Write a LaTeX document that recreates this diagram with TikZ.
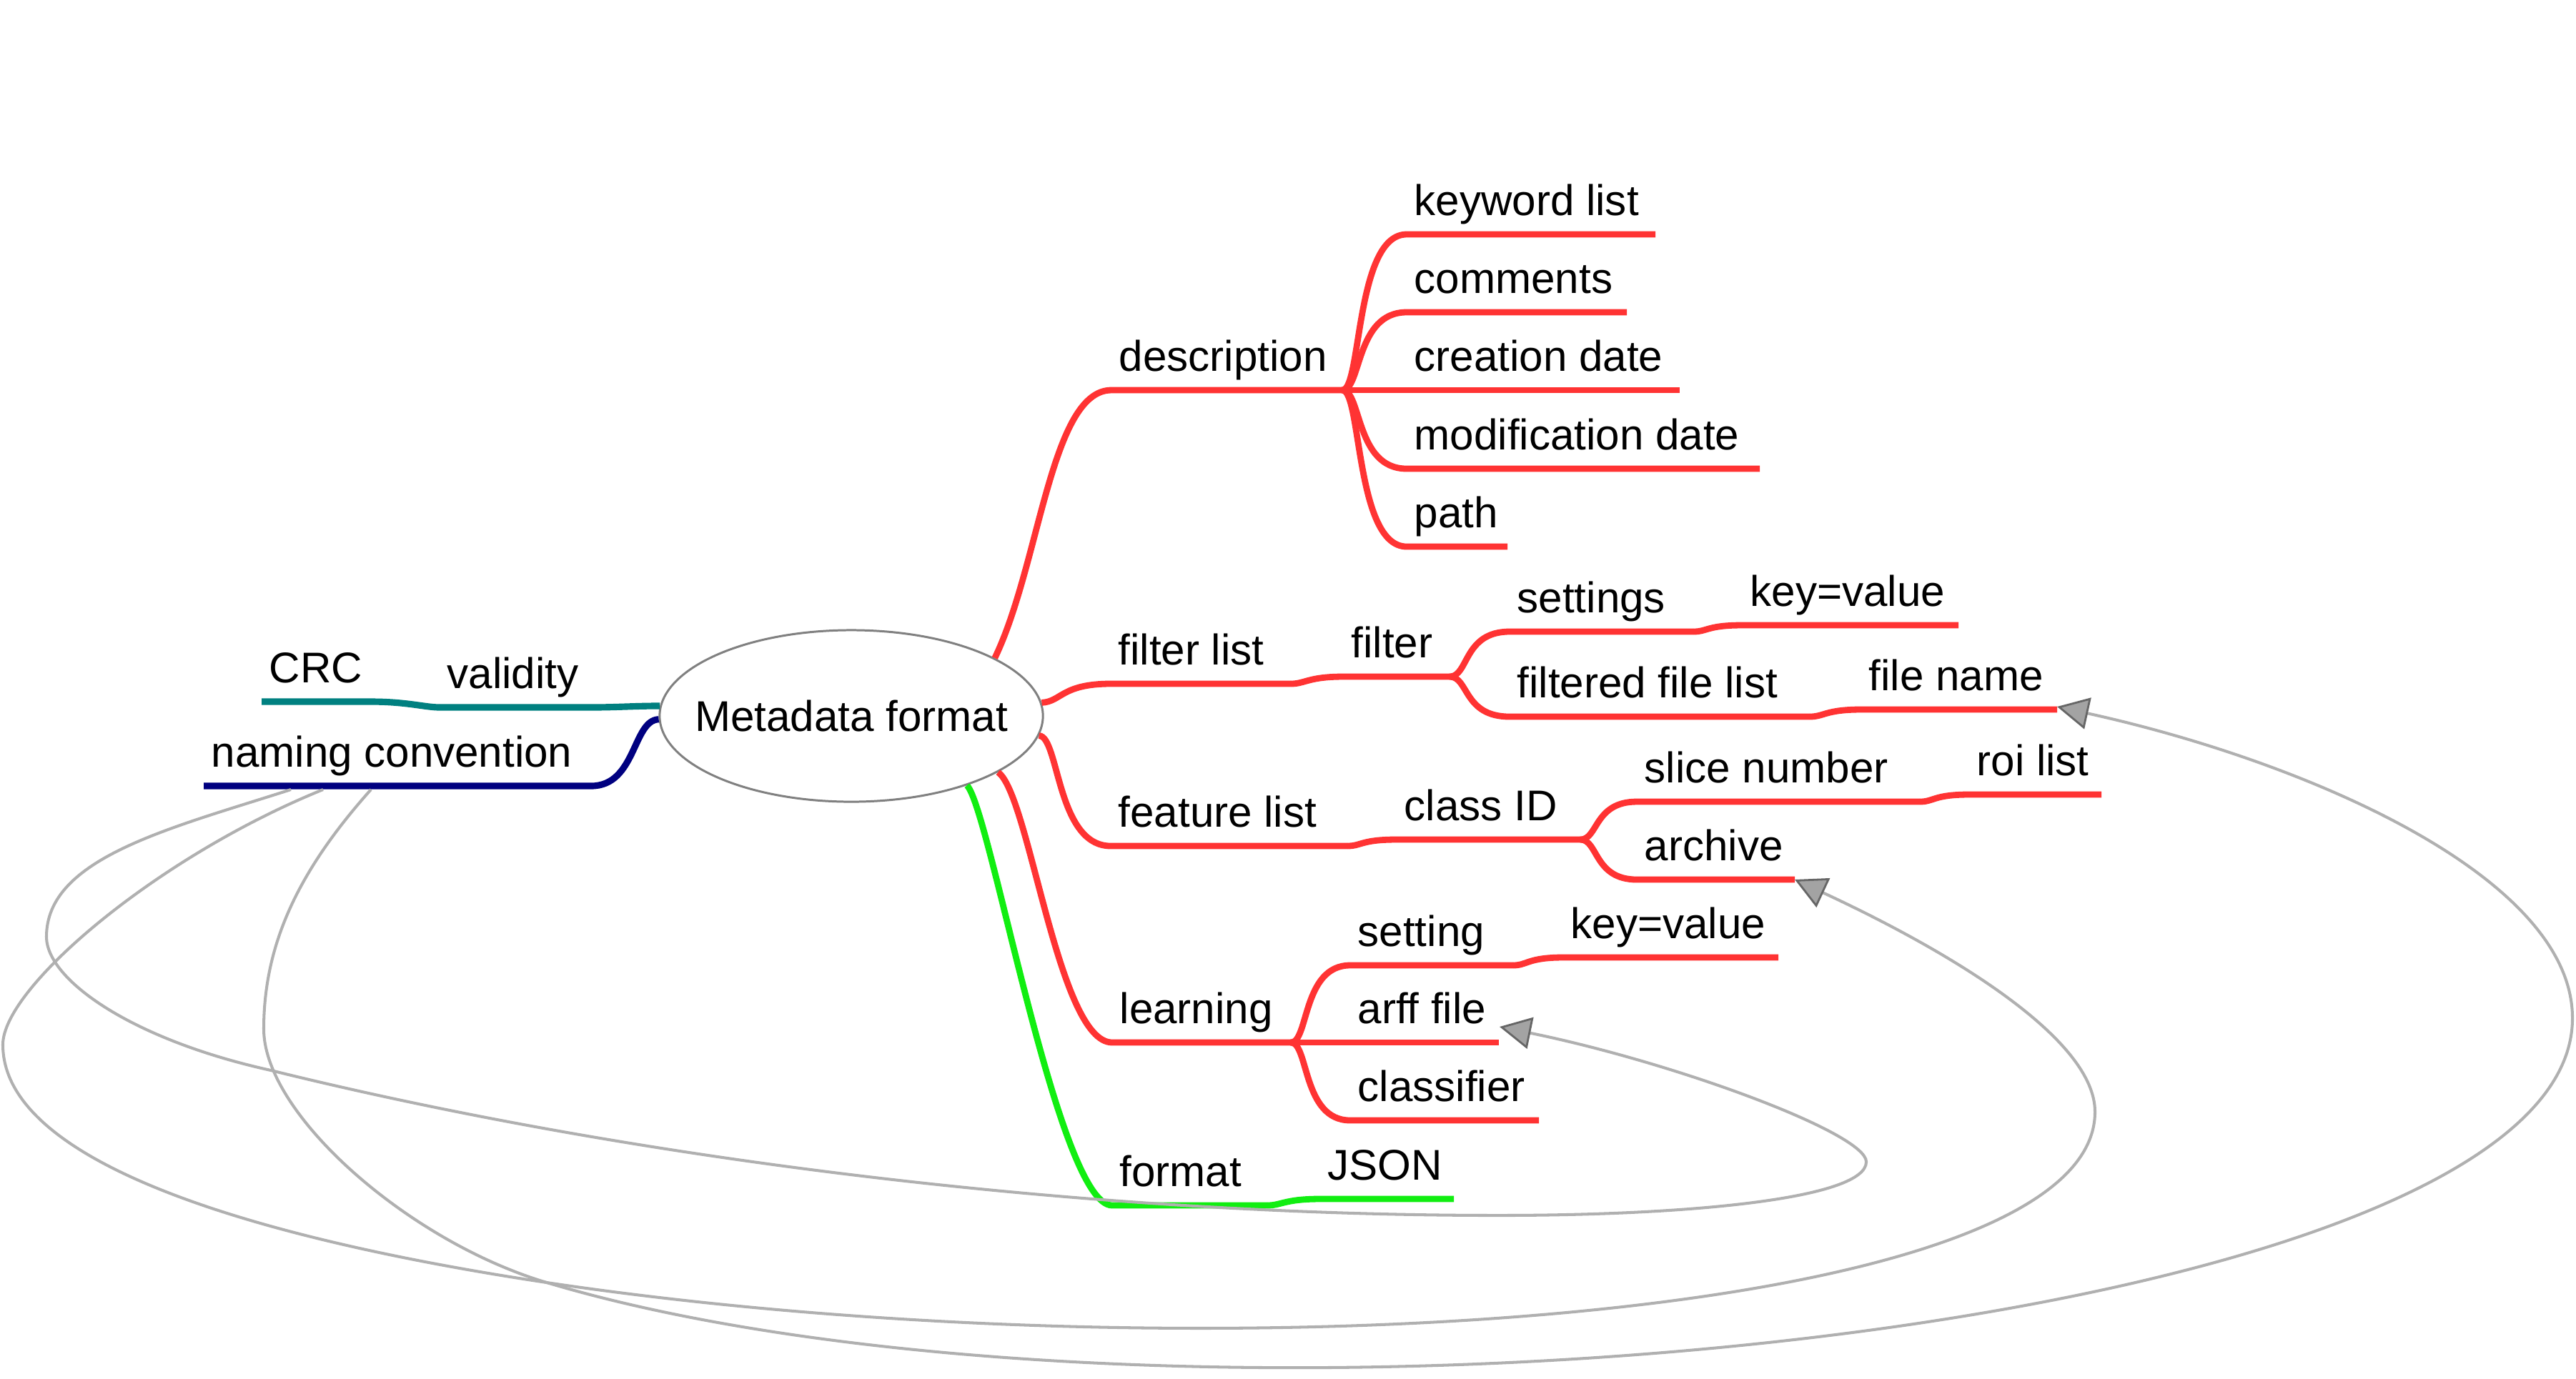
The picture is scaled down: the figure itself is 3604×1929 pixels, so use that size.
\documentclass[tikz,border=0pt]{standalone}
\usepackage{fontspec}
\setmainfont{Liberation Sans}
\usetikzlibrary{arrows.meta,shapes.geometric}
\definecolor{brred}{HTML}{FF3333}
\definecolor{brgreen}{HTML}{11EE11}
\definecolor{brteal}{HTML}{008080}
\definecolor{brnavy}{HTML}{000080}
\definecolor{linkgray}{HTML}{B0B0B0}
\begin{document}
\begin{tikzpicture}[x=0.01cm,y=-0.01cm,
  lbl/.style={anchor=base west,inner sep=0pt,font=\fontsize{17.1pt}{20pt}\selectfont},
  redbr/.style={draw=brred,line width=2.5pt},
  greenbr/.style={draw=brgreen,line width=2.5pt},
  tealbr/.style={draw=brteal,line width=2.6pt},
  navybr/.style={draw=brnavy,line width=2.6pt},
  link/.style={draw=linkgray,line width=1.15pt,
    -{Triangle[length=12.5pt,width=12.7pt,fill=black!36,color=black!60,line width=0.8pt]}},
  rootnode/.style={draw=black!50,line width=0.85pt,ellipse,fill=white,
    minimum width=5.36cm,minimum height=2.4cm,inner sep=0pt,
    font=\fontsize{17.1pt}{20pt}\selectfont}]
\fill[white] (0,0) rectangle (3604,1929);
\useasboundingbox (0,0) rectangle (3604,1929);

% ---------- root ----------
\node[rootnode] (root) at (1191,1002) {\makebox[0pt]{Metadata format}};

% ---------- line coordinates ----------
\coordinate (desc-s) at (1555,546);  \coordinate (desc-e) at (1878,546);
\coordinate (kw-s) at (1968,328);    \coordinate (kw-e) at (2316,328);
\coordinate (comm-s) at (1968,437);  \coordinate (comm-e) at (2276,437);
\coordinate (cdate-s) at (1968,546); \coordinate (cdate-e) at (2350,546);
\coordinate (mdate-s) at (1968,656); \coordinate (mdate-e) at (2462,656);
\coordinate (path-s) at (1968,765);  \coordinate (path-e) at (2109,765);

\coordinate (flist-s) at (1554,957); \coordinate (flist-e) at (1806,957);
\coordinate (filter-s) at (1880,947);\coordinate (filter-e) at (2028,947);
\coordinate (settings-s) at (2112,884); \coordinate (settings-e) at (2369,884);
\coordinate (kv1-s) at (2438,875);   \coordinate (kv1-e) at (2740,875);
\coordinate (ffl-s) at (2112,1003);  \coordinate (ffl-e) at (2532,1003);
\coordinate (fname-s) at (2604,993); \coordinate (fname-e) at (2878,993);

\coordinate (featl-s) at (1554,1184); \coordinate (featl-e) at (1885,1184);
\coordinate (classid-s) at (1954,1175); \coordinate (classid-e) at (2211,1175);
\coordinate (slice-s) at (2290,1122); \coordinate (slice-e) at (2686,1122);
\coordinate (roi-s) at (2755,1112);   \coordinate (roi-e) at (2940,1112);
\coordinate (archive-s) at (2290,1231); \coordinate (archive-e) at (2511,1231);

\coordinate (learn-s) at (1556,1459); \coordinate (learn-e) at (1806,1459);
\coordinate (setting-s) at (1889,1351); \coordinate (setting-e) at (2117,1351);
\coordinate (kv2-s) at (2187,1340);   \coordinate (kv2-e) at (2488,1340);
\coordinate (arff-s) at (1889,1459);  \coordinate (arff-e) at (2097,1459);
\coordinate (classif-s) at (1889,1568); \coordinate (classif-e) at (2153,1568);

\coordinate (format-s) at (1556,1687); \coordinate (format-e) at (1773,1687);
\coordinate (json-s) at (1847,1678);  \coordinate (json-e) at (2034,1678);

\coordinate (val-s) at (828,990);     \coordinate (val-e) at (615,990);
\coordinate (crc-s) at (519,982);     \coordinate (crc-e) at (366,982);
\coordinate (naming-s) at (827,1100); \coordinate (naming-e) at (285,1100);

% link end points
\coordinate (nc-a) at (407,1105);
\coordinate (nc-b) at (452,1105);
\coordinate (nc-c) at (519,1105);
\coordinate (fname-tip) at (2878,989);
\coordinate (archive-tip) at (2511,1231);
\coordinate (arff-tip) at (2098,1437);

% ---------- labels ----------
\node[lbl] (desc) at (1565,519) {description};
\node[lbl] (kw) at (1978,301) {keyword list};
\node[lbl] (comm) at (1978,410) {comments};
\node[lbl] (cdate) at (1978,519) {creation date};
\node[lbl] (mdate) at (1978,629) {modification date};
\node[lbl] (path) at (1978,738) {path};
\node[lbl] (flist) at (1564,930) {filter list};
\node[lbl] (filter) at (1890,920) {filter};
\node[lbl] (settings) at (2122,857) {settings};
\node[lbl] (kv1) at (2448,848) {key=value};
\node[lbl] (ffl) at (2122,976) {filtered file list};
\node[lbl] (fname) at (2614,966) {file name};
\node[lbl] (featl) at (1564,1157) {feature list};
\node[lbl] (classid) at (1964,1148) {class ID};
\node[lbl] (slice) at (2300,1095) {slice number};
\node[lbl] (roi) at (2765,1085) {roi list};
\node[lbl] (archive) at (2300,1204) {archive};
\node[lbl] (learning) at (1566,1432) {learning};
\node[lbl] (setting) at (1899,1324) {setting};
\node[lbl] (kv2) at (2197,1313) {key=value};
\node[lbl] (arff) at (1899,1432) {arff file};
\node[lbl] (classifier) at (1899,1541) {classifier};
\node[lbl] (format) at (1566,1660) {format};
\node[lbl] (json) at (1857,1651) {JSON};
\node[lbl] (validity) at (625,963) {validity};
\node[lbl] (crc) at (376,955) {CRC};
\node[lbl] (naming) at (295,1073) {naming convention};

% ---------- description ----------
\draw[redbr] (root.22) .. controls (1455,790) and (1470,546) .. (desc-s) -- (desc-e);
\draw[redbr] (desc-e) .. controls +(27,0) and +(-72,0) .. (kw-s) -- (kw-e);
\draw[redbr] (desc-e) .. controls +(27,0) and +(-72,0) .. (comm-s) -- (comm-e);
\draw[redbr] (desc-e) -- (cdate-s) -- (cdate-e);
\draw[redbr] (desc-e) .. controls +(27,0) and +(-72,0) .. (mdate-s) -- (mdate-e);
\draw[redbr] (desc-e) .. controls +(27,0) and +(-72,0) .. (path-s) -- (path-e);

% ---------- filter list ----------
\draw[redbr] (root.4) .. controls (1485,982) and (1485,957) .. (flist-s) -- (flist-e);
\draw[redbr] (flist-e) .. controls +(20,0) and +(-50,0) .. (filter-s) -- (filter-e);
\draw[redbr] (filter-e) .. controls +(27,0) and +(-65,0) .. (settings-s) -- (settings-e);
\draw[redbr] (settings-e) .. controls +(20,0) and +(-50,0) .. (kv1-s) -- (kv1-e);
\draw[redbr] (filter-e) .. controls +(27,0) and +(-65,0) .. (ffl-s) -- (ffl-e);
\draw[redbr] (ffl-e) .. controls +(20,0) and +(-50,0) .. (fname-s) -- (fname-e);

% ---------- feature list ----------
\draw[redbr] (root.-6) .. controls (1482,1030) and (1478,1184) .. (featl-s) -- (featl-e);
\draw[redbr] (featl-e) .. controls +(20,0) and +(-50,0) .. (classid-s) -- (classid-e);
\draw[redbr] (classid-e) .. controls +(25,0) and +(-60,0) .. (slice-s) -- (slice-e);
\draw[redbr] (slice-e) .. controls +(20,0) and +(-50,0) .. (roi-s) -- (roi-e);
\draw[redbr] (classid-e) .. controls +(25,0) and +(-60,0) .. (archive-s) -- (archive-e);

% ---------- learning ----------
\draw[redbr] (root.-21) .. controls (1440,1110) and (1480,1459) .. (learn-s) -- (learn-e);
\draw[redbr] (learn-e) .. controls +(25,0) and +(-67,0) .. (setting-s) -- (setting-e);
\draw[redbr] (setting-e) .. controls +(20,0) and +(-50,0) .. (kv2-s) -- (kv2-e);
\draw[redbr] (learn-e) -- (arff-s) -- (arff-e);
\draw[redbr] (learn-e) .. controls +(25,0) and +(-67,0) .. (classif-s) -- (classif-e);

% ---------- format ----------
\draw[greenbr] (root.-31) .. controls (1385,1130) and (1480,1687) .. (format-s) -- (format-e);
\draw[greenbr] (format-e) .. controls +(20,0) and +(-50,0) .. (json-s) -- (json-e);

% ---------- left side ----------
\draw[tealbr] (root.177) .. controls +(-35,0) and +(35,0) .. (val-s) -- (val-e);
\draw[tealbr] (val-e) .. controls +(-20,0) and +(50,0) .. (crc-s) -- (crc-e);
\draw[navybr] (root.181) .. controls (885,1008) and (890,1100) .. (naming-s) -- (naming-e);

% ---------- links ----------
\draw[link] (nc-a) .. controls (236,1160) and (65,1201) .. (65,1311)
  .. controls (65,1371) and (184,1455) .. (379,1498)
  .. controls (864,1618) and (1496,1701) .. (2096,1701)
  .. controls (2376,1701) and (2611,1676) .. (2611,1626)
  .. controls (2611,1586) and (2343,1487) .. (arff-tip);
\draw[link] (nc-b) .. controls (220,1199) and (4,1382) .. (4,1462)
  .. controls (4,1642) and (419,1743) .. (765,1795)
  .. controls (1655,1928) and (2931,1856) .. (2931,1556)
  .. controls (2931,1456) and (2737,1336) .. (archive-tip);
\draw[link] (nc-c) .. controls (419,1217) and (369,1320) .. (369,1440)
  .. controls (369,1560) and (573,1738) .. (765,1795)
  .. controls (1627,2053) and (3599,1875) .. (3599,1425)
  .. controls (3599,1225) and (3220,1064) .. (fname-tip);
\end{tikzpicture}
\end{document}
